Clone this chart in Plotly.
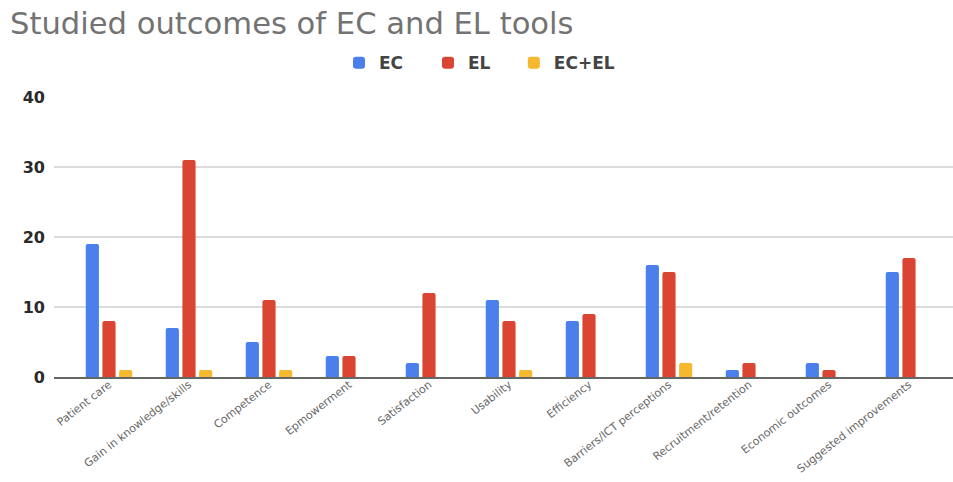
import plotly.graph_objects as go

categories = [
    "Patient care", "Gain in knowledge/skills", "Competence", "Epmowerment",
    "Satisfaction", "Usability", "Efficiency", "Barriers/ICT perceptions",
    "Recruitment/retention", "Economic outcomes", "Suggested improvements",
]
ec = [19, 7, 5, 3, 2, 11, 8, 16, 1, 2, 15]
el = [8, 31, 11, 3, 12, 8, 9, 15, 2, 1, 17]
ec_el = [1, 1, 1, 0, 0, 1, 0, 2, 0, 0, 0]
y_ticks = [0, 10, 20, 30, 40]

# each series gets its own legend box so the entries can be spaced freely
series = [
    ("EC", ec, "#4a7fec", "legend", 0.317),
    ("EL", el, "#da4533", "legend2", 0.416),
    ("EC+EL", ec_el, "#f5b82e", "legend3", 0.5115),
]

legend_style = dict(orientation="h", xanchor="left", y=1.121, yanchor="middle",
                    font=dict(size=17, color="#444", family="DejaVu Sans",
                              weight="bold"),
                    bgcolor="rgba(0,0,0,0)")

fig = go.Figure()
layout_legends = {}
for name, vals, color, leg, lx in series:
    fig.add_trace(go.Bar(x=categories, y=vals, name=name, marker_color=color,
                         marker_line_width=0, legend=leg, showlegend=True))
    layout_legends[leg] = dict(legend_style, x=lx)

fig.update_layout(
    width=953, height=482,
    showlegend=True,
    paper_bgcolor="white", plot_bgcolor="white",
    margin=dict(l=54, r=0, t=97, b=105),
    barmode="group", bargap=0.375, bargroupgap=0.21, barcornerradius=2,
    font=dict(family="DejaVu Sans, sans-serif", color="#555"),
    title=dict(text="Studied outcomes of EC and EL tools", x=0.0105, xanchor="left",
               y=0.952, yanchor="middle",
               font=dict(size=30.6, color="#737373", family="DejaVu Sans")),
    xaxis=dict(range=[-0.6875, 10.55], tickangle=-38,
               tickfont=dict(size=11, color="#666", family="DejaVu Sans"),
               showline=True, linecolor="#666", linewidth=2,
               ticks="", showgrid=False, ticklabelstandoff=-5),
    yaxis=dict(range=[0, 40], tickvals=y_ticks, showgrid=True, gridcolor="#dcdcdc",
               gridwidth=1.5, zeroline=False, ticks="",
               tickfont=dict(size=16, color="#2a2a2a", family="DejaVu Sans",
                             weight="bold"),
               ticklabelstandoff=8),
    **layout_legends,
)

fig.write_html("out.html")
